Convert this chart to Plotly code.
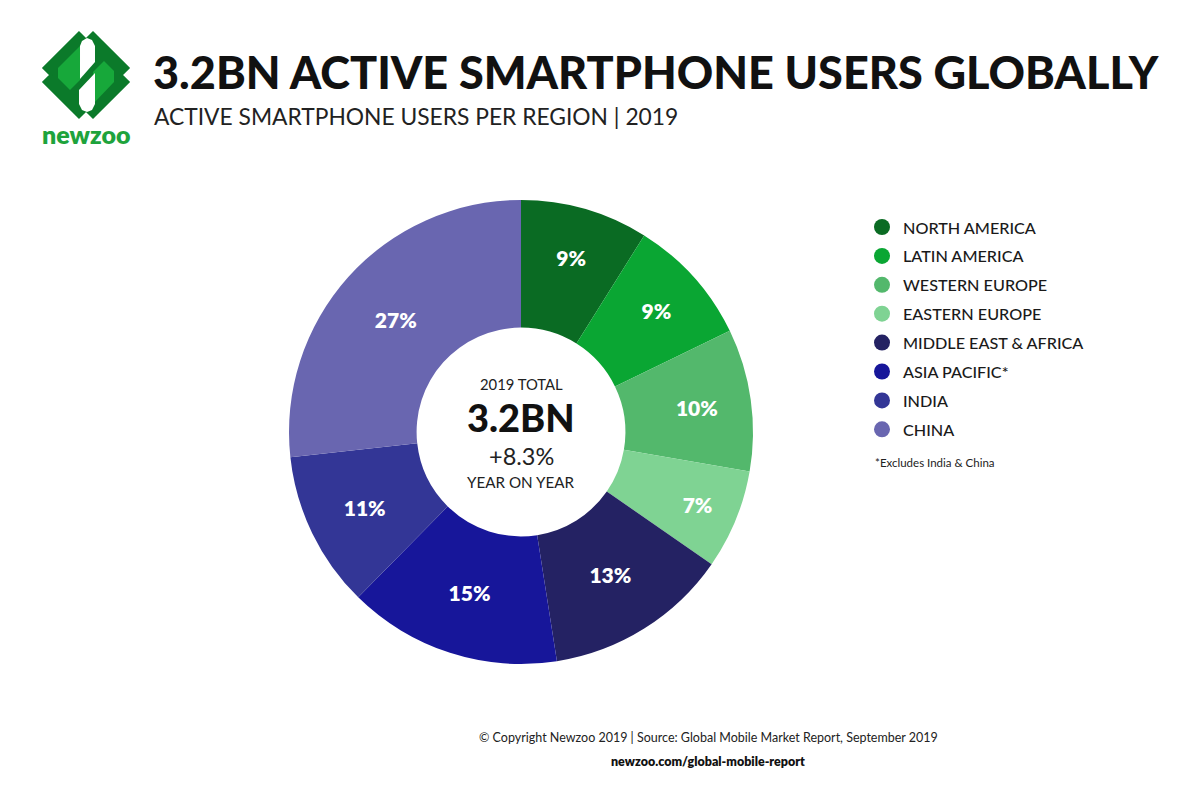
import plotly.graph_objects as go

W, H = 1200, 803

regions = ["NORTH AMERICA", "LATIN AMERICA", "WESTERN EUROPE", "EASTERN EUROPE",
           "MIDDLE EAST & AFRICA", "ASIA PACIFIC*", "INDIA", "CHINA"]
shares = [9, 9, 10, 7, 13, 15, 11, 27]
share_labels = ["9%", "9%", "10%", "7%", "13%", "15%", "11%", "27%"]
colors = ["#0a6b23", "#0aa633", "#53b86c", "#7fd393",
          "#242263", "#17169a", "#333696", "#6966b0"]

FONT = "Lato"


def px(x):
    return x / W


def py(y):
    return 1 - y / H


fig = go.Figure()

fig.add_trace(go.Pie(
    labels=regions,
    values=shares,
    text=share_labels,
    textinfo="text",
    textposition="inside",
    insidetextorientation="horizontal",
    sort=False,
    direction="clockwise",
    rotation=0,
    hole=0.45,
    marker=dict(colors=colors, line=dict(width=0)),
    textfont=dict(family=FONT, size=21, color="white", weight=800),
    domain=dict(x=[px(289), px(753)], y=[py(664), py(200)]),
    showlegend=False,
    hoverinfo="label+text",
))

shapes = []
annotations = []

# ---- Logo (decorative) ----
cx, cy, hd = 86, 75, 45


def path_from(points, close=True):
    s = "M " + " L ".join(f"{px(x):.5f},{py(y):.5f}" for x, y in points)
    return s + (" Z" if close else "")


r = 10
diamond = [(cx, cy - hd + r), (cx + r * 0.7, cy - hd + r * 0.3), (cx + hd - r * 0.3, cy - r * 0.7),
           (cx + hd - r, cy), (cx + hd - r * 0.3, cy + r * 0.7), (cx + r * 0.7, cy + hd - r * 0.3),
           (cx, cy + hd - r), (cx - r * 0.7, cy + hd - r * 0.3), (cx - hd + r * 0.3, cy + r * 0.7),
           (cx - hd + r, cy), (cx - hd + r * 0.3, cy - r * 0.7), (cx - r * 0.7, cy - hd + r * 0.3)]
shapes.append(dict(type="path", xref="paper", yref="paper", path=path_from(diamond),
                   fillcolor="#0b7a2a", line=dict(color="#0b7a2a", width=3)))
# bright green bands
shapes.append(dict(type="path", xref="paper", yref="paper",
                   path=path_from([(58, 68), (80, 46), (80, 80), (70, 90), (58, 78)]),
                   fillcolor="#17a83a", line=dict(width=0)))
shapes.append(dict(type="path", xref="paper", yref="paper",
                   path=path_from([(93, 72), (104, 61), (114, 71), (114, 82), (93, 104)]),
                   fillcolor="#17a83a", line=dict(width=0)))
# white strips
shapes.append(dict(type="path", xref="paper", yref="paper",
                   path=path_from([(80, 46), (82, 41), (87, 38), (92, 40), (95, 46), (95, 62), (80, 79)]),
                   fillcolor="white", line=dict(width=0)))
shapes.append(dict(type="path", xref="paper", yref="paper",
                   path=path_from([(79, 90), (95, 73), (95, 104), (92, 110), (87, 112), (82, 110), (79, 104)]),
                   fillcolor="white", line=dict(width=0)))
annotations.append(dict(x=px(86), y=py(134), xref="paper", yref="paper", text="newzoo",
                        showarrow=False, xanchor="center", yanchor="middle",
                        font=dict(family=FONT, size=25, color="#1ea33c", weight=800)))

# ---- Titles ----
annotations.append(dict(x=px(151), y=py(72), xref="paper", yref="paper",
                        text="3.2BN ACTIVE SMARTPHONE USERS GLOBALLY",
                        showarrow=False, xanchor="left", yanchor="middle",
                        font=dict(family=FONT, size=45, color="#111111", weight=900)))
annotations.append(dict(x=px(152), y=py(116), xref="paper", yref="paper",
                        text="ACTIVE SMARTPHONE USERS PER REGION | 2019",
                        showarrow=False, xanchor="left", yanchor="middle",
                        font=dict(family=FONT, size=22.8, color="#222222")))

# ---- Center text ----
annotations.append(dict(x=px(521), y=py(384), xref="paper", yref="paper", text="2019 TOTAL",
                        showarrow=False, font=dict(family=FONT, size=14.8, color="#222222")))
annotations.append(dict(x=px(521), y=py(417), xref="paper", yref="paper", text="3.2BN",
                        showarrow=False, font=dict(family=FONT, size=38, color="#111111", weight=900)))
annotations.append(dict(x=px(521), y=py(456), xref="paper", yref="paper", text="+8.3%",
                        showarrow=False, font=dict(family=FONT, size=23.5, color="#222222")))
annotations.append(dict(x=px(521), y=py(482), xref="paper", yref="paper", text="YEAR ON YEAR",
                        showarrow=False, font=dict(family=FONT, size=15.2, color="#222222")))

# ---- Legend ----
y0, dy = 227, 28.9
for i, (name, col) in enumerate(zip(regions, colors)):
    yy = y0 + i * dy
    shapes.append(dict(type="circle", xref="paper", yref="paper",
                       x0=px(874), x1=px(890), y0=py(yy + 8), y1=py(yy - 8),
                       fillcolor=col, line=dict(width=0)))
    annotations.append(dict(x=px(901), y=py(yy), xref="paper", yref="paper", text=name,
                            showarrow=False, xanchor="left", yanchor="middle",
                            font=dict(family=FONT, size=16.2, color="#1a1a1a", weight=500)))
annotations.append(dict(x=px(873), y=py(462), xref="paper", yref="paper",
                        text="*Excludes India & China", showarrow=False,
                        xanchor="left", yanchor="middle",
                        font=dict(family=FONT, size=11.5, color="#222222")))

# ---- Footer ----
annotations.append(dict(x=px(708), y=py(747), xref="paper", yref="paper",
                        text="© Copyright Newzoo 2019 | Source: Global Mobile Market Report, September 2019",
                        showarrow=False, font=dict(family=FONT, size=12.5, color="#222222")))
annotations.append(dict(x=px(708), y=py(771), xref="paper", yref="paper",
                        text="newzoo.com/global-mobile-report",
                        showarrow=False, font=dict(family=FONT, size=12.5, color="#111111", weight=800)))

fig.update_layout(
    width=W, height=H,
    margin=dict(l=0, r=0, t=0, b=0),
    paper_bgcolor="white", plot_bgcolor="white",
    shapes=shapes, annotations=annotations,
    uniformtext=dict(minsize=21, mode="show"),
    font=dict(family=FONT),
)

fig.write_html("out.html")
